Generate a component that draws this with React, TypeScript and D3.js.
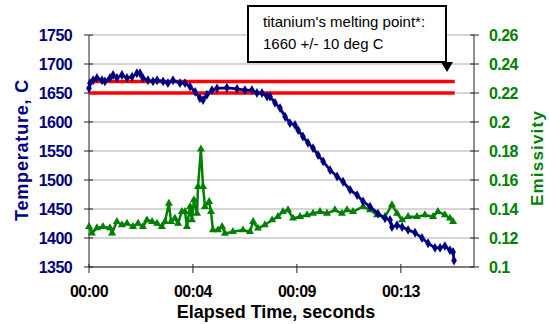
import React from "react";
import * as d3 from "d3";

// elapsed time (s) and furnace temperature (deg C)
const tempTime = [0, 0.04, 0.17, 0.33, 0.54, 0.66, 0.87, 1.0, 1.16, 1.37, 1.58, 1.79, 1.99, 2.12, 2.24, 2.45, 2.66, 2.83, 3.08, 3.28, 3.49, 3.78, 3.99, 4.2, 4.41, 4.61, 4.74, 4.9, 5.11, 5.32, 5.73, 6.15, 6.48, 6.77, 6.98, 7.19, 7.4, 7.52, 7.73, 7.94, 8.15, 8.35, 8.56, 8.69, 8.89, 9.1, 9.31, 9.52, 9.73, 10.02, 10.31, 10.56, 10.85, 11.14, 11.39, 11.68, 12.01, 12.3, 12.51, 12.59, 12.8, 13.01, 13.26, 13.55, 13.84, 14.09, 14.38, 14.59, 14.79, 15.0, 15.13, 15.17];
const tempValues = [1658, 1667, 1672, 1676, 1672, 1670, 1676, 1681, 1676, 1681, 1676, 1678, 1684, 1684, 1676, 1672, 1670, 1672, 1670, 1667, 1672, 1667, 1667, 1661, 1652, 1641, 1638, 1647, 1655, 1658, 1659, 1657, 1655, 1655, 1650, 1650, 1644, 1644, 1633, 1624, 1609, 1598, 1595, 1586, 1575, 1564, 1555, 1543, 1532, 1517, 1506, 1497, 1483, 1474, 1463, 1454, 1442, 1434, 1431, 1419, 1422, 1419, 1414, 1409, 1400, 1391, 1383, 1383, 1386, 1379, 1376, 1361];

// elapsed time (s) and emissivity
const emisTime = [0, 0.12, 0.33, 0.58, 0.87, 0.96, 1.16, 1.37, 1.58, 1.83, 2.04, 2.24, 2.41, 2.62, 2.83, 3.03, 3.16, 3.32, 3.41, 3.57, 3.7, 3.86, 3.99, 4.07, 4.2, 4.28, 4.36, 4.49, 4.53, 4.65, 4.74, 4.82, 4.99, 5.07, 5.15, 5.36, 5.53, 5.65, 5.98, 6.4, 6.69, 6.82, 7.02, 7.31, 7.61, 7.85, 8.06, 8.27, 8.48, 8.77, 9.06, 9.31, 9.6, 9.89, 10.22, 10.51, 10.72, 10.97, 11.39, 11.68, 11.97, 12.3, 12.59, 12.8, 13.01, 13.26, 13.63, 13.96, 14.3, 14.5, 14.79, 15.0, 15.13];
const emisValues = [0.1278, 0.1234, 0.1269, 0.1278, 0.1269, 0.1234, 0.1313, 0.129, 0.13, 0.1278, 0.13, 0.1278, 0.1324, 0.1313, 0.13, 0.1278, 0.1313, 0.1439, 0.1313, 0.1336, 0.13, 0.1382, 0.1382, 0.1278, 0.1416, 0.1324, 0.1462, 0.137, 0.1554, 0.1812, 0.1554, 0.1416, 0.145, 0.1382, 0.1255, 0.1255, 0.1278, 0.1232, 0.1243, 0.1255, 0.1243, 0.1313, 0.1267, 0.129, 0.1324, 0.1347, 0.1382, 0.1393, 0.1336, 0.1347, 0.1359, 0.137, 0.1382, 0.137, 0.1393, 0.137, 0.1393, 0.1382, 0.1416, 0.1393, 0.1359, 0.1347, 0.1428, 0.137, 0.1324, 0.1347, 0.1347, 0.1359, 0.1347, 0.1382, 0.1359, 0.1336, 0.1313];

// melting point band
const meltLines = [1650, 1670];
const meltSpan = [0, 15.2];

const tempTicks = [1350, 1400, 1450, 1500, 1550, 1600, 1650, 1700, 1750];
const emisTicks = [0.1, 0.12, 0.14, 0.16, 0.18, 0.2, 0.22, 0.24, 0.26];
const timeTicks = [0, 4.32, 8.64, 12.96];
const timeLabels = ["00:00", "00:04", "00:09", "00:13"];

const W = 549, H = 324;
const left = 89, right = 474, top = 35, bottom = 267;
const font = "'Liberation Sans', Arial, sans-serif";

export default function App() {
  const x = d3.scaleLinear().domain([0, 16]).range([left, right]);
  const yT = d3.scaleLinear().domain([1350, 1750]).range([bottom, top]);
  const yE = d3.scaleLinear().domain([0.1, 0.26]).range([bottom, top]);

  const tempPts = tempTime.map((t, i) => [t, tempValues[i]] as [number, number]);
  const emisPts = emisTime.map((t, i) => [t, emisValues[i]] as [number, number]);

  const tempLine = d3.line<[number, number]>().x(d => x(d[0])).y(d => yT(d[1]));
  const emisLine = d3.line<[number, number]>().x(d => x(d[0])).y(d => yE(d[1]));
  const diamond = d3.symbol().type(d3.symbolDiamond).size(28)()!;
  const triangle = d3.symbol().type(d3.symbolTriangle).size(28)()!;

  return (
    <svg width={W} height={H} style={{ position: "absolute", left: 0, top: 0, background: "#fff" }} fontFamily={font}>
      {/* gridlines */}
      {tempTicks.map(t => (
        <line key={"g" + t} x1={left} x2={right} y1={yT(t)} y2={yT(t)} stroke="#c8c8c8" strokeWidth={1.5} />
      ))}
      {/* axes */}
      <line x1={left} x2={left} y1={top} y2={bottom} stroke="#222" />
      <line x1={right} x2={right} y1={top} y2={bottom} stroke="#222" />
      <line x1={left} x2={right} y1={bottom} y2={bottom} stroke="#222" />
      {tempTicks.map(t => (
        <g key={"l" + t}>
          <line x1={left - 5} x2={left + 4} y1={yT(t)} y2={yT(t)} stroke="#222" />
          <text x={72} y={yT(t)} dy="0.36em" textAnchor="end" fontSize={16} fontWeight="bold" fill="#000080" letterSpacing={-0.6}>{t}</text>
        </g>
      ))}
      {emisTicks.map(t => (
        <g key={"r" + t}>
          <line x1={right - 4} x2={right + 5} y1={yE(t)} y2={yE(t)} stroke="#222" />
          <text x={489} y={yE(t)} dy="0.36em" fontSize={16} fontWeight="bold" fill="#008000" letterSpacing={-0.6}>{d3.format("~g")(t)}</text>
        </g>
      ))}
      {timeTicks.map((t, i) => (
        <g key={"x" + t}>
          <line x1={x(t)} x2={x(t)} y1={bottom - 3} y2={bottom + 6} stroke="#222" />
          <text x={x(t)} y={297} textAnchor="middle" fontSize={16} fontWeight="bold" fill="#000" letterSpacing={-0.6}>{timeLabels[i]}</text>
        </g>
      ))}

      {/* melting point lines */}
      {meltLines.map(m => (
        <line key={"m" + m} x1={x(meltSpan[0])} x2={x(meltSpan[1])} y1={yT(m)} y2={yT(m)} stroke="#ff0000" strokeWidth={3.5} />
      ))}

      {/* emissivity */}
      <path d={emisLine(emisPts)!} fill="none" stroke="#008000" strokeWidth={2.5} />
      {emisPts.map((d, i) => (
        <path key={"e" + i} d={triangle} transform={`translate(${x(d[0])},${yE(d[1])})`} fill="#008000" />
      ))}

      {/* temperature */}
      <path d={tempLine(tempPts)!} fill="none" stroke="#000080" strokeWidth={2.8} />
      {tempPts.map((d, i) => (
        <path key={"t" + i} d={diamond} transform={`translate(${x(d[0])},${yT(d[1])})`} fill="#000080" />
      ))}

      {/* annotation */}
      <rect x={248} y={6} width={198} height={56} fill="#fff" stroke="#000" strokeWidth={2} />
      <path d="M441,62 L453,62 L447,72 Z" fill="#000" />
      <text x={263} y={27} fontSize={15} fill="#000">titanium's melting point*:</text>
      <text x={263} y={49} fontSize={15} fill="#000">1660 +/- 10 deg C</text>

      {/* axis titles */}
      <text transform="translate(28,150) rotate(-90)" textAnchor="middle" fontSize={18} fontWeight="bold" fill="#000080" letterSpacing={0.8}>Temperature, C</text>
      <text transform="translate(543,158) rotate(-90)" textAnchor="middle" fontSize={17} fontWeight="bold" fill="#008000" letterSpacing={1.2}>Emissivity</text>
      <text x={276} y={318} textAnchor="middle" fontSize={18} fontWeight="bold" fill="#000">Elapsed Time, seconds</text>
    </svg>
  );
}
